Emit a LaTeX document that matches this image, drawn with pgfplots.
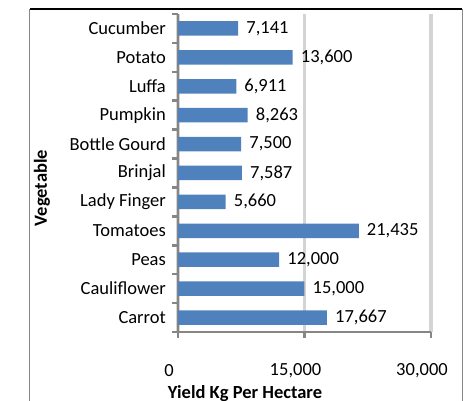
\documentclass[border=0pt]{standalone}
\usepackage{fontspec}
\setmainfont{Carlito}
\usepackage{pgfplots}
\pgfplotsset{compat=1.18}
\definecolor{barblue}{HTML}{4F81BD}
\definecolor{axgray}{HTML}{868686}
\definecolor{gridgray}{HTML}{D4D4D4}
\begin{document}
\begin{tikzpicture}
\useasboundingbox (-178pt,-69pt) rectangle (291pt,332pt);
\begin{axis}[
  at={(0pt,0pt)}, anchor=south west,
  scale only axis, width=253pt, height=318pt,
  xbar, bar width=14.5pt,
  xmin=0, xmax=30000, ymin=-0.5, ymax=10.5,
  axis x line*=bottom, axis y line*=left,
  axis line style={axgray, line width=2.5pt},
  xtick={0,15000,30000}, xticklabels={0,{15,000},{30,000}},
  ytick={0,...,10},
  yticklabels={Carrot,Cauliflower,Peas,Tomatoes,Lady Finger,Brinjal,Bottle Gourd,Pumpkin,Luffa,Potato,Cucumber},
  minor ytick={-0.5,0.5,...,10.5},
  tick align=outside,
  major tick length=6pt, minor tick length=6pt,
  tick style={axgray, line width=2.5pt},
  major y tick style={draw=none},
  xmajorgrids, major x grid style={gridgray, line width=3.5pt},
  tick label style={font=\fontsize{18.5pt}{22pt}\selectfont, text=black},
  xticklabel style={anchor=center, yshift=-33pt, xshift=-9pt},
  yticklabel style={anchor=east, inner sep=0pt, xshift=-6pt},
  /pgf/number format/assume math mode=true,
  nodes near coords={\pgfmathprintnumber[fixed,precision=0,1000 sep={,},assume math mode=true]{\pgfplotspointmeta}},
  point meta=x,
  nodes near coords style={anchor=west, inner sep=0pt, xshift=8pt, font=\fontsize{18.5pt}{22pt}\selectfont, text=black},
]
\addplot[fill=barblue, draw=none] coordinates {
(17667,0) (15000,1) (12000,2) (21435,3) (5660,4) (7587,5) (7500,6) (8263,7) (6911,8) (13600,9) (7141,10)
};
\end{axis}
\node[rotate=90, font=\fontsize{18.5pt}{22pt}\selectfont\bfseries] at (-136pt,144pt) {Vegetable};
\node[font=\fontsize{18.5pt}{22pt}\selectfont\bfseries] at (67pt,-62pt) {Yield Kg Per Hectare};
\draw[black, line width=2pt] (-148pt,323pt) -- (284pt,323pt);
\draw[axgray, line width=1pt] (-148pt,323pt) -- (-148pt,-69pt);
\draw[axgray, line width=1pt] (284pt,323pt) -- (284pt,-69pt);
\end{tikzpicture}
\end{document}
